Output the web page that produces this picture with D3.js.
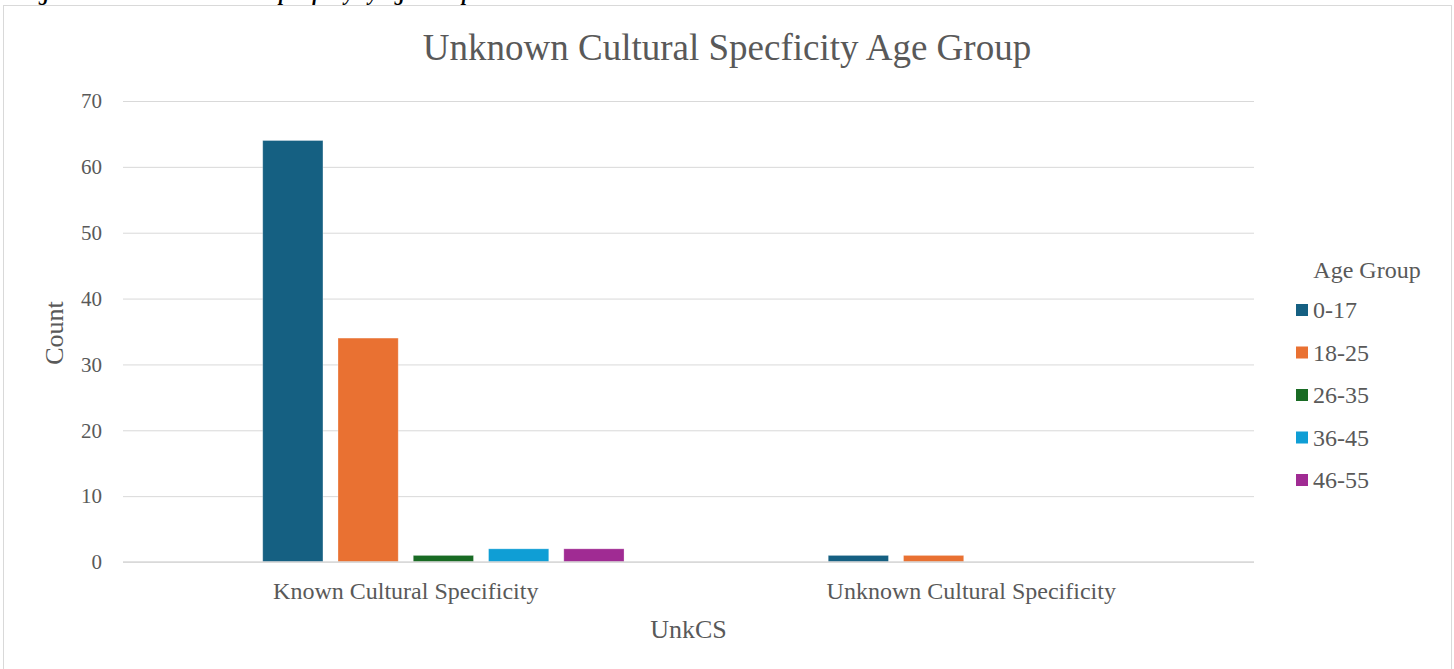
<!DOCTYPE html>
<html>
<head>
<meta charset="utf-8">
<script src="https://cdn.jsdelivr.net/npm/d3@7"></script>
<style>
  html, body { margin: 0; padding: 0; background: #fff; }
  svg { display: block; }
  text { font-family: "Liberation Serif", "Times New Roman", serif; }
</style>
</head>
<body>
<script>
// Categories on the x axis
const categories = ["Known Cultural Specificity", "Unknown Cultural Specificity"];
// Age-group series (legend order)
const ageGroups = ["0-17", "18-25", "26-35", "36-45", "46-55"];
// Counts per age group, one array per category
const knownCounts = [64, 34, 1, 2, 2];
const unknownCounts = [1, 1, 0, 0, 0];
// Series colours
const seriesColors = ["#156082", "#E97132", "#196B24", "#0F9ED5", "#A02B93"];
// Y axis ticks
const yTicks = [0, 10, 20, 30, 40, 50, 60, 70];

const chartTitle = "Unknown Cultural Specficity Age Group";
const xTitle = "UnkCS";
const yTitle = "Count";
const legendTitle = "Age Group";
const caption = "Figure 12 Unknown Cultural Specificity by Age Group";

const W = 1454, H = 669;
const plot = { left: 123, right: 1254, top: 101, bottom: 562 };
const textColor = "#595959";
const gridColor = "#d9d9d9";

const valuesByCategory = [knownCounts, unknownCounts];
const rows = categories.map((c, i) => ({
  category: c,
  values: ageGroups.map((g, j) => ({ group: g, value: valuesByCategory[i][j], color: seriesColors[j] }))
}));

const svg = d3.select("body").append("svg").attr("width", W).attr("height", H);

// Caption line running above the chart frame (only its lower edge is on the page)
svg.append("text")
  .attr("x", 20).attr("y", 0)
  .attr("font-size", 20).attr("font-style", "italic").attr("font-weight", "bold")
  .attr("fill", "#000")
  .text(caption);

// Chart frame
svg.append("rect")
  .attr("x", 3.5).attr("y", 5.5).attr("width", 1448).attr("height", H)
  .attr("fill", "#fff").attr("stroke", gridColor).attr("stroke-width", 1);

// Title
svg.append("text")
  .attr("x", 727).attr("y", 60)
  .attr("text-anchor", "middle")
  .attr("font-size", 37).attr("fill", textColor)
  .text(chartTitle);

const y = d3.scaleLinear().domain([0, 70]).range([plot.bottom, plot.top]);

const x0 = d3.scaleBand().domain(categories)
  .range([plot.left, plot.right])
  .paddingInner(0.228).paddingOuter(0.114);

// One empty leading slot precedes the five age groups in each cluster
const slots = [""].concat(ageGroups);
const x1 = d3.scaleBand().domain(slots)
  .range([0, x0.bandwidth()])
  .paddingInner(0.2).paddingOuter(0);

// Gridlines + y tick labels
const yAxis = d3.axisLeft(y).tickValues(yTicks)
  .tickSize(-(plot.right - plot.left)).tickPadding(21);
const gy = svg.append("g").attr("transform", `translate(${plot.left},0)`).call(yAxis);
gy.select(".domain").remove();
gy.selectAll(".tick line").attr("stroke", gridColor).attr("stroke-width", 1);
gy.selectAll(".tick text")
  .attr("font-family", "'Liberation Serif', 'Times New Roman', serif")
  .attr("font-size", 21).attr("fill", textColor);

// Bars
const groups = svg.append("g").selectAll("g").data(rows).join("g")
  .attr("transform", d => `translate(${x0(d.category)},0)`);
groups.selectAll("rect").data(d => d.values.filter(v => v.value > 0)).join("rect")
  .attr("x", d => x1(d.group))
  .attr("width", x1.bandwidth())
  .attr("y", d => y(d.value))
  .attr("height", d => y(0) - y(d.value))
  .attr("fill", d => d.color)
  .attr("stroke", "#ffffff").attr("stroke-opacity", 0.35).attr("stroke-width", 0.8);

// Baseline
svg.append("line")
  .attr("x1", plot.left).attr("x2", plot.right)
  .attr("y1", y(0)).attr("y2", y(0))
  .attr("stroke", gridColor).attr("stroke-width", 1.5);

// X category labels
const xAxis = d3.axisBottom(x0).tickSize(0).tickPadding(20);
const gx = svg.append("g").attr("transform", `translate(0,${plot.bottom})`).call(xAxis);
gx.select(".domain").remove();
gx.selectAll(".tick text")
  .attr("font-family", "'Liberation Serif', 'Times New Roman', serif")
  .attr("font-size", 24).attr("fill", textColor);

// Axis titles
svg.append("text")
  .attr("x", (plot.left + plot.right) / 2).attr("y", 638)
  .attr("text-anchor", "middle").attr("font-size", 26).attr("fill", textColor)
  .text(xTitle);
svg.append("text")
  .attr("transform", "translate(63,333) rotate(-90)")
  .attr("text-anchor", "middle").attr("font-size", 26).attr("fill", textColor)
  .text(yTitle);

// Legend
const legend = svg.append("g");
legend.append("text")
  .attr("x", 1367).attr("y", 278)
  .attr("text-anchor", "middle").attr("font-size", 24).attr("fill", textColor)
  .text(legendTitle);
const ly = d3.scalePoint().domain(ageGroups).range([310, 480]);
const li = legend.selectAll("g.item").data(ageGroups).join("g").attr("class", "item")
  .attr("transform", d => `translate(1296,${ly(d)})`);
li.append("rect").attr("x", 0).attr("y", -6).attr("width", 12).attr("height", 12)
  .attr("fill", (d, i) => seriesColors[i]);
li.append("text").attr("x", 17).attr("y", 8)
  .attr("font-size", 24).attr("fill", textColor)
  .text(d => d);
</script>
</body>
</html>
